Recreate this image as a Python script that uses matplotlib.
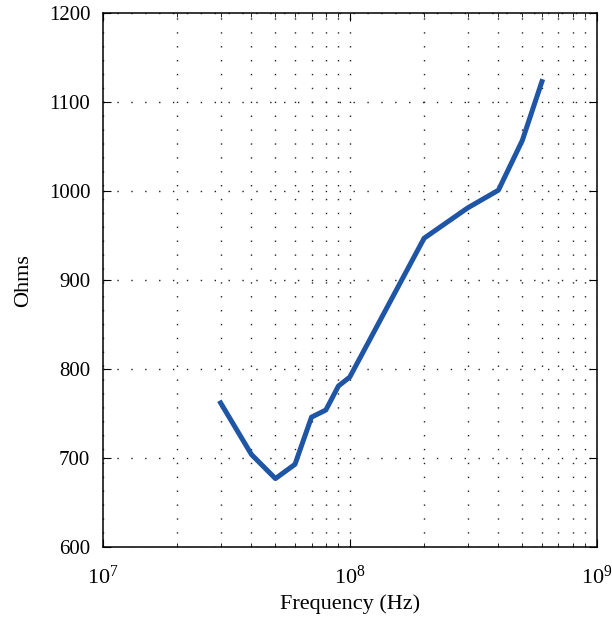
import matplotlib.pyplot as plt
import numpy as np

plt.rcParams['font.family'] = ['Liberation Serif', 'DejaVu Serif']
plt.rcParams['mathtext.fontset'] = 'stix'

# impedance sweep
freq = [3e7, 4e7, 5e7, 6e7, 7e7, 8e7, 9e7, 1e8, 2e8, 3e8, 4e8, 5e8, 6e8]
ohms = [762, 704, 677, 693, 746, 754, 781, 791, 947, 981, 1001, 1057, 1123]

fig = plt.figure(figsize=(6.12, 6.21), dpi=100)
ax = fig.add_axes([0.168, 0.119, 0.807, 0.860])

ax.semilogx(freq, ohms, color='#1f55a5', linewidth=3.6)

ax.set_xlim(1e7, 1e9)
ax.set_ylim(600, 1200)
ax.set_yticks(np.arange(600, 1201, 100))

dots = (0, (1, 9))
ax.grid(True, which='major', linestyle=dots, color='#222222', linewidth=1.0)
ax.xaxis.grid(True, which='minor', linestyle=dots, color='#222222', linewidth=1.0)

ax.tick_params(which='both', direction='in', top=True, right=True, labelsize=15)
ax.tick_params(axis='y', pad=9)
ax.tick_params(axis='x', pad=13, labelsize=16)
ax.tick_params(which='major', length=6)
ax.tick_params(which='minor', length=3)
for s in ax.spines.values():
    s.set_linewidth(1.1)

ax.set_xlabel('Frequency (Hz)', fontsize=16, labelpad=4)
ax.set_ylabel('Ohms', fontsize=16, labelpad=11)

fig.savefig('out.png', dpi=100)
